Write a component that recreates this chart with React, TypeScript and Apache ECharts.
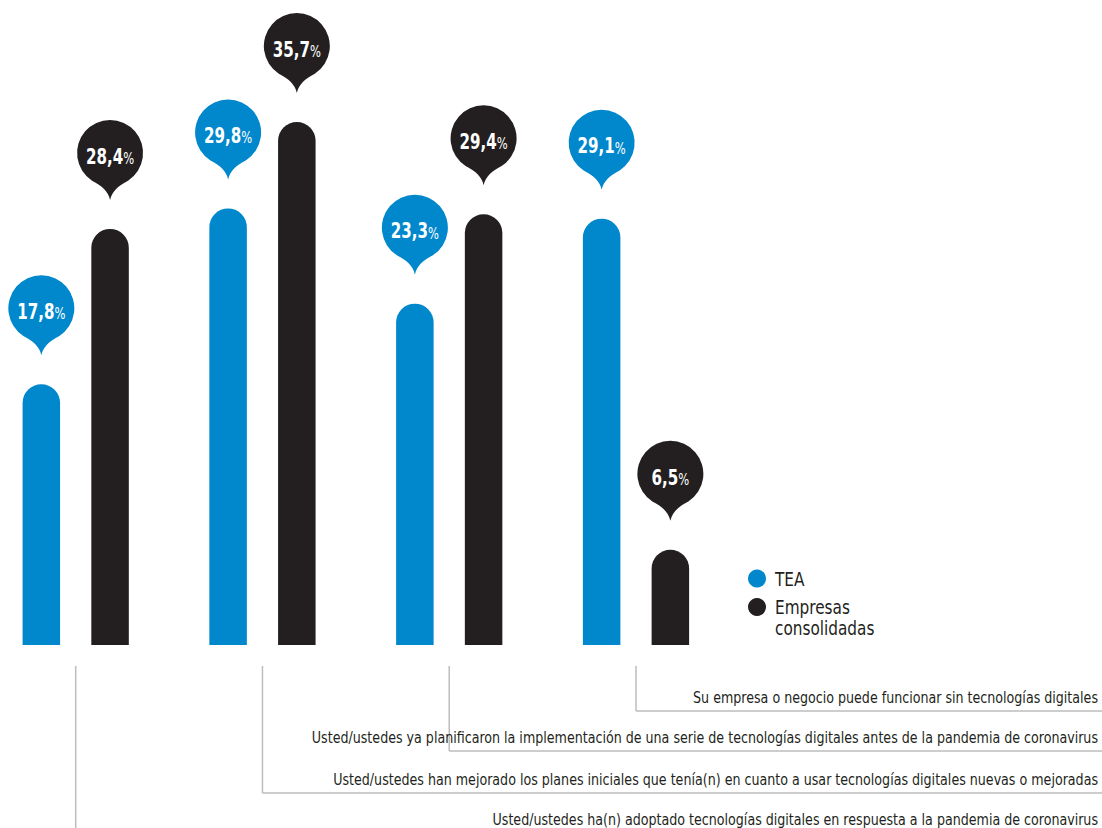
import React, { useEffect, useRef } from "react";
import * as echarts from "echarts";

const categories = [
  "Usted/ustedes ha(n) adoptado tecnologías digitales en respuesta a la pandemia de coronavirus",
  "Usted/ustedes han mejorado los planes iniciales que tenía(n) en cuanto a usar tecnologías digitales nuevas o mejoradas",
  "Usted/ustedes ya planificaron la implementación de una serie de tecnologías digitales antes de la pandemia de coronavirus",
  "Su empresa o negocio puede funcionar sin tecnologías digitales",
];
const seriesNames = ["TEA", "Empresas consolidadas"];
const teaValues = [17.8, 29.8, 23.3, 29.1];
const empresasValues = [28.4, 35.7, 29.4, 6.5];

const BLUE = "#0087CC";
const DARK = "#231F20";
const GRAY = "#BDBDBD";
const FONT = "'DejaVu Sans Condensed', 'DejaVu Sans', sans-serif";

// layout (pixels) for leader lines / labels
const leaderTop = 666;
const leaderLineY = [836, 793, 751, 711];
const leaderTextY = [819.5, 779.5, 737.5, 697.5];

const BAR_W = 37.5;
const R = 33;

function bubblePath(cx: number, cy: number) {
  const tip = 47;
  const jx = 18;
  const jy = 27.7;
  return (
    `M ${cx} ${cy + tip} ` +
    `C ${cx + 2} ${cy + 38} ${cx + 8} ${cy + 33} ${cx + jx} ${cy + jy} ` +
    `A ${R} ${R} 0 1 0 ${cx - jx} ${cy + jy} ` +
    `C ${cx - 8} ${cy + 33} ${cx - 2} ${cy + 38} ${cx} ${cy + tip} Z`
  );
}

function makeBarRenderer(color: string, offsetFrac: number) {
  return (params: any, api: any) => {
    const idx = api.value(0);
    const val = api.value(1);
    const top = api.coord([idx, val]);
    const base = api.coord([idx, 0]);
    const band = api.size([1, 0])[0];
    const cx = top[0] + offsetFrac * band;
    const by = top[1] - 76;
    const label = val.toFixed(1).replace(".", ",");
    return {
      type: "group",
      children: [
        {
          type: "rect",
          shape: {
            x: cx - BAR_W / 2,
            y: top[1],
            width: BAR_W,
            height: base[1] - top[1],
            r: [BAR_W / 2, BAR_W / 2, 0, 0],
          },
          style: { fill: color },
        },
        {
          type: "path",
          shape: { pathData: bubblePath(cx, by) },
          style: { fill: color },
        },
        {
          type: "text",
          x: cx,
          y: by + 1.5,
          scaleX: 0.8,
          style: {
            text: `{v|${label}}{p|%}`,
            align: "center",
            verticalAlign: "middle",
            rich: {
              v: {
                fontFamily: FONT,
                fontSize: 21,
                fontWeight: "bold",
                fill: "#ffffff",
                color: "#ffffff",
                lineHeight: 24,
                verticalAlign: "bottom",
              },
              p: {
                fontFamily: FONT,
                fontSize: 16,
                fontWeight: "normal",
                fill: "#ffffff",
                color: "#ffffff",
                lineHeight: 20,
                verticalAlign: "bottom",
              },
            },
          },
        },
      ],
    };
  };
}

function leaderRenderer(params: any, api: any) {
  const i = api.value(0);
  const x = api.coord([i, 0])[0];
  const right = api.getWidth();
  const ly = leaderLineY[i];
  return {
    type: "group",
    children: [
      {
        type: "line",
        shape: { x1: x, y1: leaderTop, x2: x, y2: ly },
        style: { stroke: GRAY, lineWidth: 1.5 },
      },
      {
        type: "line",
        shape: { x1: x, y1: ly, x2: right, y2: ly },
        style: { stroke: GRAY, lineWidth: 1.5 },
      },
      {
        type: "text",
        x: right - 4,
        y: leaderTextY[i],
        scaleX: 0.88,
        style: {
          text: categories[i],
          align: "right",
          verticalAlign: "middle",
          fontFamily: FONT,
          fontSize: 16,
          fill: DARK,
        },
      },
    ],
  };
}

export default function App() {
  const ref = useRef<HTMLDivElement>(null);
  useEffect(() => {
    document.body.style.margin = "0";
    if (!ref.current) return;
    const chart = echarts.init(ref.current, undefined, { renderer: "svg" });
    chart.setOption({
      animation: false,
      backgroundColor: "#ffffff",
      grid: { left: 75.7, right: 466, top: 59, bottom: 183 },
      xAxis: {
        type: "category",
        data: categories,
        boundaryGap: false,
        show: false,
      },
      yAxis: { type: "value", min: 0, max: 40, show: false },
      series: [
        {
          type: "custom",
          name: "leaders",
          clip: false,
          silent: true,
          data: categories.map((_, i) => [i, 0]),
          renderItem: leaderRenderer,
          z: 1,
        },
        {
          type: "custom",
          name: seriesNames[0],
          clip: false,
          data: teaValues.map((v, i) => [i, v]),
          renderItem: makeBarRenderer(BLUE, -0.184),
          z: 2,
        },
        {
          type: "custom",
          name: seriesNames[1],
          clip: false,
          data: empresasValues.map((v, i) => [i, v]),
          renderItem: makeBarRenderer(DARK, 0.184),
          z: 2,
        },
      ],
      graphic: [
        { type: "circle", shape: { cx: 757, cy: 578.5, r: 9 }, style: { fill: BLUE } },
        { type: "circle", shape: { cx: 757, cy: 607, r: 9 }, style: { fill: DARK } },
        {
          type: "text",
          x: 775,
          y: 578.7,
          scaleX: 0.85,
          style: { text: seriesNames[0], fontFamily: FONT, fontSize: 20, fill: DARK, verticalAlign: "middle" },
        },
        {
          type: "text",
          x: 775,
          y: 617.2,
          scaleX: 0.85,
          style: {
            text: "Empresas\nconsolidadas",
            fontFamily: FONT,
            fontSize: 20,
            lineHeight: 21,
            fill: DARK,
            verticalAlign: "middle",
          },
        },
      ],
    });
    return () => chart.dispose();
  }, []);
  return <div ref={ref} style={{ width: 1102, height: 828 }} />;
}
